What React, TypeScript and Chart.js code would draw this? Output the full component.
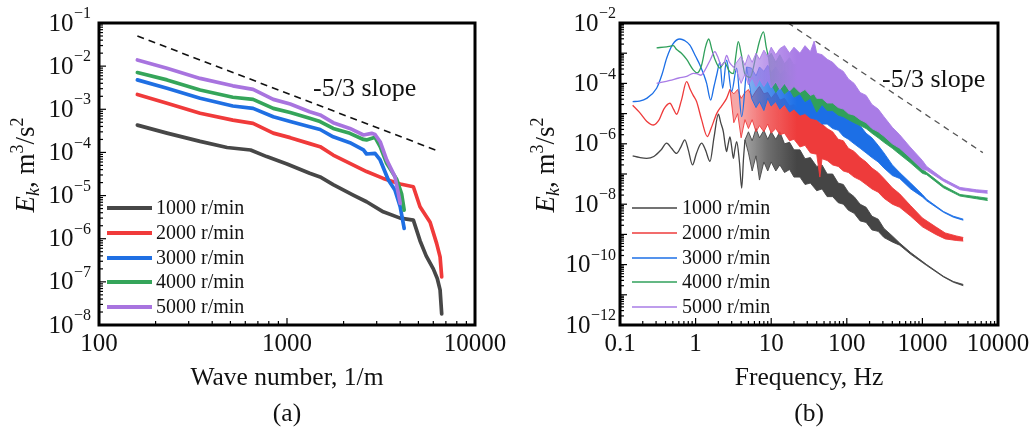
import React, { useEffect, useRef } from "react";
import { Chart, registerables } from "chart.js";

Chart.register(...registerables);

const SERIF = '"Liberation Serif", "Times New Roman", serif';

const SERIES_NAMES = ["1000 r/min", "2000 r/min", "3000 r/min", "4000 r/min", "5000 r/min"];
const COLORS_A = ["#474747", "#f03a3a", "#1f6fe3", "#35a55a", "#a874df"];
const COLORS_B = ["#454545", "#ee3b3b", "#1c6fe6", "#30a05b", "#a97ce6"];

// ---------- Panel (a): wave-number spectra ----------
const A_K_1000 = [160, 230, 345, 480, 640, 780, 1000, 1320, 1500, 1760, 2250, 2650, 3250, 4000, 4700, 5100, 5500, 6000, 6300, 6520, 6650];
const A_E_1000 = [4.3e-4, 2.8e-4, 1.8e-4, 1.3e-4, 1.14e-4, 8.0e-5, 5.4e-5, 3.3e-5, 2.7e-5, 1.8e-5, 1.03e-5, 7.2e-6, 4.2e-6, 3.0e-6, 2.7e-6, 9e-7, 4e-7, 2e-7, 1.2e-7, 6.5e-8, 1.8e-8];
const A_K_2000 = [160, 230, 345, 515, 660, 845, 1040, 1320, 1500, 1760, 2160, 2650, 3250, 4000, 4700, 5100, 5770, 6250, 6520, 6650];
const A_E_2000 = [2.2e-3, 1.38e-3, 8.1e-4, 5.6e-4, 4.7e-4, 2.8e-4, 2.2e-4, 1.6e-4, 1.36e-4, 8.7e-5, 5.6e-5, 3.6e-5, 2.5e-5, 1.85e-5, 1.6e-5, 5.5e-6, 2.4e-6, 7.8e-7, 3.8e-7, 1.3e-7];
const A_K_3000 = [160, 230, 345, 515, 660, 845, 1040, 1320, 1500, 1760, 2160, 2550, 2650, 2940, 3130, 3460, 3750, 4000, 4200];
const A_E_3000 = [4.8e-3, 3.06e-3, 1.8e-3, 1.19e-3, 1.05e-3, 6.7e-4, 5.2e-4, 3.95e-4, 3.4e-4, 2.3e-4, 1.68e-4, 1.14e-4, 9.2e-5, 9.5e-5, 6.7e-5, 2.3e-5, 1.35e-5, 5.5e-6, 1.74e-6];
const A_K_4000 = [160, 230, 345, 515, 660, 845, 1040, 1320, 1500, 1760, 2160, 2550, 2650, 2940, 3130, 3390, 3830, 4070, 4200];
const A_E_4000 = [7.1e-3, 4.8e-3, 2.8e-3, 1.9e-3, 1.7e-3, 1.05e-3, 8.4e-4, 6.2e-4, 5.2e-4, 3.6e-4, 2.77e-4, 2.0e-4, 1.95e-4, 2.24e-4, 1.36e-4, 5.6e-5, 2.4e-5, 1.1e-5, 4.6e-6];
const A_K_5000 = [160, 230, 345, 515, 660, 845, 1040, 1320, 1500, 1760, 2160, 2550, 2820, 2940, 3130, 3390, 3750, 3910, 4000];
const A_E_5000 = [1.39e-2, 8.9e-3, 5.2e-3, 3.5e-3, 2.9e-3, 1.7e-3, 1.32e-3, 8.8e-4, 7.4e-4, 4.9e-4, 3.6e-4, 2.54e-4, 2.77e-4, 2.6e-4, 1.77e-4, 6.7e-5, 2.74e-5, 1.12e-5, 6.6e-6];
const A_SLOPE_K = [160, 6400];
const A_SLOPE_E = [5.0e-2, 1.07e-4];

const A_X_TICKS = [100, 1000, 10000];
const A_X_LABELS = ["100", "1000", "10000"];
const A_Y_TICKS = [1e-1, 1e-2, 1e-3, 1e-4, 1e-5, 1e-6, 1e-7, 1e-8];
const A_Y_EXP = ["\u22121", "\u22122", "\u22123", "\u22124", "\u22125", "\u22126", "\u22127", "\u22128"];

// ---------- Panel (b): frequency spectra ----------
// smooth low-frequency trace + noisy band (upper / lower envelope)
const B_F_LINE_1000 = [0.147, 0.18, 0.225, 0.28, 0.35, 0.414, 0.48, 0.56, 0.64, 0.72, 0.8, 0.91, 1.03, 1.2, 1.35, 1.55, 1.75, 2.0, 2.15, 2.33, 2.45, 2.57, 2.7, 2.85, 3.0, 3.16, 3.3, 3.5, 3.8, 4.07, 4.3, 4.5];
const B_E_LINE_1000 = [4.0e-7, 3.55e-7, 3.3e-7, 3.8e-7, 6.3e-7, 1.05e-6, 7.1e-7, 4.8e-7, 7.9e-7, 1.35e-6, 6.3e-7, 2.0e-7, 5.0e-7, 1.05e-6, 6.3e-7, 2.6e-7, 1.6e-6, 9.5e-6, 5.0e-6, 2.5e-6, 1.0e-6, 5.5e-7, 1.0e-6, 1.7e-6, 7.9e-7, 3.3e-7, 6.3e-7, 1.17e-6, 2.5e-7, 3.4e-8, 3.2e-7, 1.35e-6];
const B_F_BAND_1000 = [5, 5.6, 6.3, 7, 8, 9, 10, 11.5, 13, 15, 17.5, 20, 24, 28, 33, 40, 47, 55, 65, 77, 90, 105, 125, 150, 180, 215, 260, 310, 400, 500, 700, 1140, 1900, 2570, 3475];
const B_E_HI_1000 = [2.5e-6, 1.26e-6, 3.2e-6, 1.58e-6, 2.8e-6, 1.41e-6, 2.5e-6, 1.41e-6, 2.5e-6, 1.0e-6, 1.12e-6, 6.3e-7, 6.3e-7, 3.2e-7, 3.5e-7, 1.78e-7, 2.0e-7, 1.0e-7, 1.0e-7, 5.0e-8, 4.5e-8, 2.5e-8, 1.78e-8, 1.0e-8, 7.9e-9, 4.0e-9, 3.2e-9, 1.58e-9, 8.9e-10, 5.2e-10, 2.5e-10, 1.0e-10, 4.1e-11, 2.75e-11, 2.2e-11];
const B_E_LO_1000 = [5.0e-7, 1.26e-7, 4.0e-7, 6.3e-8, 2.5e-7, 1.26e-7, 2.5e-7, 1.26e-7, 2.0e-7, 1.12e-7, 1.41e-7, 7.9e-8, 7.9e-8, 4.5e-8, 5.0e-8, 2.8e-8, 3.2e-8, 1.78e-8, 1.78e-8, 1.12e-8, 1.0e-8, 6.3e-9, 5.0e-9, 2.8e-9, 2.5e-9, 1.41e-9, 1.26e-9, 7.9e-10, 5.6e-10, 4.4e-10, 2.2e-10, 9.3e-11, 3.9e-11, 2.6e-11, 2.0e-11];

const B_F_LINE_2000 = [0.147, 0.18, 0.225, 0.276, 0.33, 0.38, 0.458, 0.51, 0.56, 0.65, 0.76, 0.85, 0.93, 1.03, 1.2, 1.43, 1.6, 1.9, 2.2, 2.57, 2.85];
const B_E_LINE_2000 = [1.9e-5, 1.12e-5, 5.6e-6, 4.2e-6, 6.3e-6, 1.41e-5, 2.2e-5, 1.41e-5, 9.5e-6, 2.8e-5, 1.15e-4, 6.3e-5, 4.0e-5, 2.5e-5, 6.3e-6, 1.74e-6, 3.2e-6, 1.0e-5, 1.78e-5, 3.2e-5, 6.3e-5];
const B_F_BAND_2000 = [3.2, 3.6, 4.0, 4.5, 5, 5.6, 6.3, 7, 8, 9, 10, 11.5, 13, 15, 17.5, 20, 24, 28, 33, 40, 44, 47, 55, 65, 77, 90, 105, 125, 150, 180, 215, 260, 310, 400, 500, 700, 1000, 1500, 2000, 2800, 3475];
const B_E_HI_2000 = [4.5e-5, 6.3e-5, 3.2e-5, 5.0e-5, 6.3e-5, 3.5e-5, 5.6e-5, 7.9e-5, 4.5e-5, 5.0e-5, 3.2e-5, 5.0e-5, 2.8e-5, 3.2e-5, 1.78e-5, 2.0e-5, 1.12e-5, 1.26e-5, 7.9e-6, 6.3e-6, 5.0e-6, 4.5e-6, 3.2e-6, 2.5e-6, 1.41e-6, 1.26e-6, 7.1e-7, 5.6e-7, 3.5e-7, 2.5e-7, 1.58e-7, 1.12e-7, 7.1e-8, 3.5e-8, 2.2e-8, 8.9e-9, 3.5e-9, 1.78e-9, 1.12e-9, 8.9e-10, 7.9e-10];
const B_E_LO_2000 = [5.0e-6, 1.0e-5, 1.58e-6, 6.3e-6, 3.2e-6, 6.3e-6, 2.5e-6, 4.0e-6, 2.5e-6, 4.5e-6, 2.24e-6, 3.2e-6, 2.0e-6, 2.24e-6, 1.26e-6, 1.41e-6, 7.9e-7, 8.9e-7, 5.0e-7, 4.5e-7, 7.9e-8, 3.2e-7, 2.8e-7, 2.0e-7, 1.78e-7, 1.26e-7, 1.12e-7, 7.9e-8, 6.3e-8, 4.5e-8, 3.2e-8, 2.5e-8, 1.58e-8, 1.0e-8, 7.9e-9, 4.0e-9, 1.78e-9, 1.0e-9, 7.1e-10, 6.3e-10, 6.0e-10];

const B_F_LINE_3000 = [0.147, 0.18, 0.225, 0.305, 0.36, 0.414, 0.5, 0.62, 0.72, 0.84, 1.0, 1.14, 1.3, 1.4, 1.58, 1.75, 1.9, 2.1, 2.28, 2.57, 3.0, 3.49, 4.07, 4.73];
const B_E_LINE_3000 = [2.5e-5, 2.6e-5, 3.2e-5, 6.9e-5, 2.0e-4, 6.8e-4, 2.0e-3, 2.95e-3, 2.6e-3, 1.86e-3, 7.9e-4, 4.1e-4, 1.78e-4, 1.0e-4, 2.8e-5, 7.9e-5, 1.9e-4, 5.0e-4, 6.9e-5, 5.9e-4, 5.4e-5, 3.2e-4, 7.9e-6, 3.5e-4];
const B_F_BAND_3000 = [5.5, 6.3, 7, 8, 9, 10, 11.5, 13, 15, 17.5, 20, 24, 28, 33, 40, 47, 55, 65, 77, 90, 105, 125, 150, 180, 215, 260, 310, 400, 500, 700, 1000, 1140, 1900, 2570, 3475];
const B_E_HI_3000 = [3.2e-4, 1.78e-4, 3.5e-4, 2.5e-4, 4.0e-4, 2.24e-4, 3.5e-4, 2.0e-4, 2.8e-4, 1.58e-4, 2.0e-4, 1.12e-4, 1.26e-4, 7.9e-5, 7.9e-5, 4.5e-5, 4.5e-5, 2.5e-5, 2.24e-5, 1.26e-5, 1.0e-5, 5.6e-6, 4.0e-6, 2.24e-6, 1.58e-6, 8.9e-7, 5.0e-7, 2.0e-7, 1.12e-7, 5.0e-8, 2.1e-8, 1.45e-8, 5.75e-9, 4.0e-9, 3.2e-9];
const B_E_LO_3000 = [3.2e-5, 1.58e-5, 2.5e-5, 1.26e-5, 3.2e-5, 1.78e-5, 2.5e-5, 1.41e-5, 2.0e-5, 1.12e-5, 1.41e-5, 8.9e-6, 1.0e-5, 7.1e-6, 6.3e-6, 4.5e-6, 4.5e-6, 3.2e-6, 2.8e-6, 1.78e-6, 1.41e-6, 1.0e-6, 7.1e-7, 5.0e-7, 3.5e-7, 2.5e-7, 1.58e-7, 8.9e-8, 7.1e-8, 3.2e-8, 1.74e-8, 1.29e-8, 5.4e-9, 3.7e-9, 2.95e-9];

const B_F_LINE_4000 = [0.305, 0.414, 0.507, 0.562, 0.65, 0.762, 0.93, 1.05, 1.2, 1.35, 1.49, 1.65, 1.8, 2.1, 2.4, 2.8, 3.16, 3.4, 3.67, 4.0, 4.5, 5.25, 6.4, 7.0, 7.9, 8.6, 9.2];
const B_E_LINE_4000 = [1.51e-3, 1.62e-3, 1.78e-3, 1.32e-3, 1.0e-3, 6.2e-4, 2.8e-4, 2.24e-4, 4.0e-4, 1.58e-3, 2.95e-3, 1.26e-3, 6.3e-4, 3.2e-4, 5.0e-4, 2.5e-4, 2.1e-4, 7.9e-4, 2.4e-3, 1.0e-3, 2.0e-4, 1.58e-4, 1.0e-3, 2.5e-3, 5.1e-3, 1.58e-3, 7.4e-4];
const B_F_BAND_4000 = [10, 11.5, 13, 15, 17.5, 20, 24, 28, 33, 40, 47, 55, 65, 77, 90, 105, 125, 150, 180, 215, 260, 310, 400, 500, 686, 1000, 1140, 1900, 3140, 5220, 7300];
const B_E_HI_4000 = [1.0e-3, 5.0e-4, 8.9e-4, 4.5e-4, 7.1e-4, 4.0e-4, 5.6e-4, 3.5e-4, 4.5e-4, 2.5e-4, 2.8e-4, 1.58e-4, 1.58e-4, 8.9e-5, 7.9e-5, 5.0e-5, 3.5e-5, 2.0e-5, 1.41e-5, 7.9e-6, 5.6e-6, 3.2e-6, 1.41e-6, 7.9e-7, 3.5e-7, 1.41e-7, 1.12e-7, 4.1e-8, 2.1e-8, 1.78e-8, 1.58e-8];
const B_E_LO_4000 = [1.0e-4, 5.0e-5, 7.9e-5, 4.5e-5, 6.3e-5, 3.5e-5, 4.5e-5, 2.5e-5, 3.2e-5, 1.12e-5, 2.0e-5, 1.26e-5, 1.26e-5, 8.9e-6, 7.9e-6, 6.3e-6, 5.0e-6, 4.0e-6, 3.2e-6, 2.24e-6, 1.58e-6, 1.12e-6, 7.1e-7, 4.5e-7, 2.4e-7, 1.05e-7, 9.5e-8, 3.5e-8, 1.86e-8, 1.51e-8, 1.32e-8];

const B_F_LINE_5000 = [0.305, 0.458, 0.6, 0.762, 0.93, 1.03, 1.18, 1.3, 1.55, 1.8, 1.95, 2.2, 2.4, 2.57, 2.8, 3.16];
const B_E_LINE_5000 = [1.0e-4, 1.26e-4, 1.51e-4, 1.7e-4, 2.14e-4, 2.1e-4, 1.86e-4, 2.5e-4, 5.75e-4, 1.12e-3, 7.9e-4, 4.0e-4, 5.0e-4, 8.5e-4, 5.0e-4, 3.5e-4];
const B_F_BAND_5000 = [3.5, 4, 4.5, 5, 5.6, 6.3, 7, 8, 9, 10, 11.5, 13, 15, 17.5, 20, 24, 28, 33, 37, 40, 47, 55, 65, 77, 90, 105, 125, 150, 180, 215, 260, 310, 400, 500, 686, 1000, 1140, 1900, 3140, 5220, 7300];
const B_E_HI_5000 = [5.0e-4, 7.9e-4, 4.0e-4, 8.9e-4, 5.0e-4, 1.0e-3, 6.3e-4, 1.26e-3, 7.9e-4, 1.58e-3, 8.9e-4, 1.41e-3, 1.78e-3, 1.0e-3, 1.58e-3, 1.0e-3, 1.78e-3, 1.12e-3, 2.5e-3, 1.0e-3, 8.9e-4, 6.3e-4, 5.0e-4, 3.2e-4, 2.5e-4, 1.41e-4, 1.0e-4, 5.0e-5, 4.0e-5, 2.0e-5, 1.41e-5, 7.9e-6, 3.5e-6, 2.0e-6, 7.9e-7, 2.8e-7, 1.78e-7, 6.9e-8, 3.6e-8, 3.0e-8, 2.8e-8];
const B_E_LO_5000 = [2.5e-4, 1.0e-4, 2.0e-4, 8.9e-5, 1.58e-4, 7.9e-5, 1.41e-4, 7.9e-5, 1.26e-4, 7.1e-5, 1.12e-4, 6.3e-5, 1.0e-4, 5.6e-5, 7.9e-5, 5.0e-5, 6.3e-5, 4.0e-5, 4.5e-5, 3.2e-5, 3.2e-5, 2.24e-5, 2.24e-5, 1.58e-5, 1.41e-5, 1.0e-5, 8.9e-6, 6.3e-6, 5.0e-6, 3.2e-6, 2.5e-6, 1.78e-6, 1.0e-6, 7.1e-7, 3.5e-7, 1.41e-7, 1.32e-7, 5.75e-8, 3.0e-8, 2.5e-8, 2.3e-8];

const B_SLOPE_F = [16.7, 6300];
const B_SLOPE_E = [1.0e-2, 5.1e-7];

const B_X_TICKS = [0.1, 1, 10, 100, 1000, 10000];
const B_X_LABELS = ["0.1", "1", "10", "100", "1000", "10000"];
const B_Y_TICKS = [1e-2, 1e-4, 1e-6, 1e-8, 1e-10, 1e-12];
const B_Y_EXP = ["\u22122", "\u22124", "\u22126", "\u22128", "\u221210", "\u221212"];

// ---------- helpers ----------
const pts = (xs: number[], ys: number[]) => xs.map((x, i) => ({ x, y: ys[i] }));

function rgba(hex: string, a: number) {
  const n = parseInt(hex.slice(1), 16);
  return `rgba(${(n >> 16) & 255},${(n >> 8) & 255},${n & 255},${a})`;
}

function buildA() {
  const series = [
    [A_K_1000, A_E_1000],
    [A_K_2000, A_E_2000],
    [A_K_3000, A_E_3000],
    [A_K_4000, A_E_4000],
    [A_K_5000, A_E_5000],
  ];
  const ds: any[] = series.map(([k, e], i) => ({
    label: SERIES_NAMES[i],
    data: pts(k, e),
    borderColor: COLORS_A[i],
    borderWidth: 3.7,
    pointRadius: 0,
    fill: false,
    tension: 0,
    borderJoinStyle: "round",
    borderCapStyle: "round",
    order: 10 - i,
  }));
  ds.push({
    label: "slope",
    data: pts(A_SLOPE_K, A_SLOPE_E),
    borderColor: "#111",
    borderWidth: 1.6,
    borderDash: [7, 5],
    pointRadius: 0,
    fill: false,
    order: 20,
  });
  return ds;
}

// fill of the noisy band: lighter where the spectrum is made of sparse spikes
function bandFill(color: string) {
  return (c: any) => {
    const chart = c.chart;
    const a = chart.chartArea;
    if (!a) return color;
    const xs = chart.scales.x;
    const g = chart.ctx.createLinearGradient(a.left, 0, a.right, 0);
    const p = (f: number) => Math.min(1, Math.max(0, (xs.getPixelForValue(f) - a.left) / (a.right - a.left)));
    g.addColorStop(0, rgba(color, 0.45));
    g.addColorStop(p(4), rgba(color, 0.45));
    g.addColorStop(p(9), rgba(color, 0.78));
    g.addColorStop(p(22), rgba(color, 1));
    g.addColorStop(1, rgba(color, 1));
    return g;
  };
}

function buildB() {
  const series = [
    [B_F_LINE_1000, B_E_LINE_1000, B_F_BAND_1000, B_E_HI_1000, B_E_LO_1000],
    [B_F_LINE_2000, B_E_LINE_2000, B_F_BAND_2000, B_E_HI_2000, B_E_LO_2000],
    [B_F_LINE_3000, B_E_LINE_3000, B_F_BAND_3000, B_E_HI_3000, B_E_LO_3000],
    [B_F_LINE_4000, B_E_LINE_4000, B_F_BAND_4000, B_E_HI_4000, B_E_LO_4000],
    [B_F_LINE_5000, B_E_LINE_5000, B_F_BAND_5000, B_E_HI_5000, B_E_LO_5000],
  ];
  const ds: any[] = [];
  series.forEach(([fl, el, fb, hi, lo], i) => {
    const color = COLORS_B[i];
    const common = {
      borderColor: color,
      borderWidth: 0.9,
      pointRadius: 0,
      borderJoinStyle: "round",
      order: 10 - i,
    };
    const last = { x: fl[fl.length - 1], y: el[el.length - 1] };
    ds.push({ ...common, label: SERIES_NAMES[i], data: pts(fl, el), cubicInterpolationMode: "monotone", fill: false, borderWidth: 1.3 });
    ds.push({ ...common, label: SERIES_NAMES[i] + " upper", data: [last, ...pts(fb, hi)], tension: 0, fill: "+1", backgroundColor: bandFill(color) });
    ds.push({ ...common, label: SERIES_NAMES[i] + " lower", data: [last, ...pts(fb, lo)], tension: 0, fill: false });
  });
  ds.push({
    label: "slope",
    data: pts(B_SLOPE_F, B_SLOPE_E),
    borderColor: "#555",
    borderWidth: 1.3,
    borderDash: [6, 5],
    pointRadius: 0,
    fill: false,
    order: 20,
  });
  return ds;
}

type Spec = {
  width: number;
  padding: { left: number; right: number; top: number; bottom: number };
  xMin: number; xMax: number; yMin: number; yMax: number;
  xTicks: number[]; xLabels: string[];
  yTicks: number[]; yExp: string[];
  yGap: number;
  yTitleX: number;
  xTitle: string;
  caption: string;
  slope: { x: number; y: number };
  legend: { x0: number; x1: number; tx: number; rows: number[]; lw: number };
  colors: string[];
  build: () => any[];
};

function drawYTitle(ctx: CanvasRenderingContext2D, x: number, yc: number) {
  const big = 27, small = 18;
  const parts = [
    { t: "E", f: `italic ${big}px ${SERIF}`, dy: 0 },
    { t: "k", f: `italic ${small}px ${SERIF}`, dy: 5 },
    { t: ", m", f: `${big}px ${SERIF}`, dy: 0 },
    { t: "3", f: `${small}px ${SERIF}`, dy: -11 },
    { t: "/s", f: `${big}px ${SERIF}`, dy: 0 },
    { t: "2", f: `${small}px ${SERIF}`, dy: -11 },
  ];
  ctx.save();
  ctx.translate(x, yc);
  ctx.rotate(-Math.PI / 2);
  let total = 0;
  const ws = parts.map((p) => {
    ctx.font = p.f;
    const w = ctx.measureText(p.t).width;
    total += w;
    return w;
  });
  let cx = -total / 2;
  ctx.textAlign = "left";
  ctx.textBaseline = "alphabetic";
  ctx.fillStyle = "#111";
  parts.forEach((p, i) => {
    ctx.font = p.f;
    ctx.fillText(p.t, cx, p.dy);
    cx += ws[i];
  });
  ctx.restore();
}

function decoPlugin(spec: Spec) {
  return {
    id: "deco",
    afterDraw(chart: any) {
      const ctx: CanvasRenderingContext2D = chart.ctx;
      const a = chart.chartArea;
      const xs = chart.scales.x;
      const ys = chart.scales.y;
      ctx.save();
      // ticks (inward)
      ctx.strokeStyle = "#000";
      ctx.lineWidth = 1.2;
      const xd0 = Math.floor(Math.log10(spec.xMin));
      const xd1 = Math.ceil(Math.log10(spec.xMax));
      for (let d = xd0; d <= xd1; d++) {
        for (let m = 1; m <= 9; m++) {
          const v = m * Math.pow(10, d);
          if (v < spec.xMin * 0.999 || v > spec.xMax * 1.001) continue;
          const px = xs.getPixelForValue(v);
          const len = m === 1 ? 7 : 4;
          ctx.beginPath();
          ctx.moveTo(px, a.bottom);
          ctx.lineTo(px, a.bottom - len);
          ctx.stroke();
        }
      }
      const yd0 = Math.floor(Math.log10(spec.yMin));
      const yd1 = Math.ceil(Math.log10(spec.yMax));
      for (let d = yd0; d <= yd1; d++) {
        for (let m = 1; m <= 9; m++) {
          const v = m * Math.pow(10, d);
          if (v < spec.yMin * 0.999 || v > spec.yMax * 1.001) continue;
          const py = ys.getPixelForValue(v);
          const len = m === 1 ? 7 : 4;
          ctx.beginPath();
          ctx.moveTo(a.left, py);
          ctx.lineTo(a.left + len, py);
          ctx.stroke();
        }
      }
      // frame
      ctx.lineWidth = 3;
      ctx.strokeRect(a.left, a.top, a.right - a.left, a.bottom - a.top);

      ctx.fillStyle = "#111";
      // x tick labels
      ctx.font = `25px ${SERIF}`;
      ctx.textAlign = "center";
      ctx.textBaseline = "middle";
      spec.xTicks.forEach((v, i) => {
        ctx.fillText(spec.xLabels[i], xs.getPixelForValue(v), a.bottom + 19);
      });
      // y tick labels 10^n
      spec.yTicks.forEach((v, i) => {
        const py = ys.getPixelForValue(v);
        ctx.font = `16px ${SERIF}`;
        const ew = ctx.measureText(spec.yExp[i]).width;
        const ex = a.left - spec.yGap - ew;
        ctx.textAlign = "left";
        ctx.fillText(spec.yExp[i], ex, py - 9);
        ctx.font = `25px ${SERIF}`;
        ctx.textAlign = "right";
        ctx.fillText("10", ex - 0.5, py + 1);
      });
      // axis titles
      const cx = (a.left + a.right) / 2;
      ctx.font = `25.5px ${SERIF}`;
      ctx.textAlign = "center";
      ctx.fillText(spec.xTitle, cx, 378);
      ctx.fillText(spec.caption, cx, 414);
      drawYTitle(ctx, spec.yTitleX, 165);
      // slope annotation
      ctx.font = `26px ${SERIF}`;
      ctx.textAlign = "left";
      ctx.fillText("-5/3 slope", spec.slope.x, spec.slope.y);
      // legend
      const L = spec.legend;
      ctx.font = `20px ${SERIF}`;
      L.rows.forEach((ry, i) => {
        ctx.strokeStyle = spec.colors[i];
        ctx.lineWidth = L.lw;
        ctx.beginPath();
        ctx.moveTo(L.x0, ry);
        ctx.lineTo(L.x1, ry);
        ctx.stroke();
        ctx.fillStyle = "#111";
        ctx.fillText(SERIES_NAMES[i], L.tx, ry + 1);
      });
      ctx.restore();
    },
  };
}

const SPEC_A: Spec = {
  width: 520,
  padding: { left: 99, right: 45, top: 23, bottom: 111 },
  xMin: 100, xMax: 10000, yMin: 1e-8, yMax: 1e-1,
  xTicks: A_X_TICKS, xLabels: A_X_LABELS,
  yTicks: A_Y_TICKS, yExp: A_Y_EXP,
  yGap: 8,
  yTitleX: 34,
  xTitle: "Wave number, 1/m",
  caption: "(a)",
  slope: { x: 313, y: 89 },
  legend: { x0: 107, x1: 152, tx: 156, rows: [208, 233, 258, 282, 307], lw: 4 },
  colors: COLORS_A,
  build: buildA,
};

const SPEC_B: Spec = {
  width: 512,
  padding: { left: 100, right: 34, top: 23, bottom: 111 },
  xMin: 0.1, xMax: 10000, yMin: 1e-12, yMax: 1e-2,
  xTicks: B_X_TICKS, xLabels: B_X_LABELS,
  yTicks: B_Y_TICKS, yExp: B_Y_EXP,
  yGap: 4,
  yTitleX: 34,
  xTitle: "Frequency, Hz",
  caption: "(b)",
  slope: { x: 362, y: 80 },
  legend: { x0: 112, x1: 157, tx: 162, rows: [208, 233, 258, 282, 307], lw: 1.5 },
  colors: COLORS_B,
  build: buildB,
};

function Panel({ spec, left }: { spec: Spec; left: number }) {
  const ref = useRef<HTMLCanvasElement>(null);
  useEffect(() => {
    const chart = new Chart(ref.current as HTMLCanvasElement, {
      type: "line",
      data: { datasets: spec.build() },
      options: {
        responsive: false,
        animation: false,
        devicePixelRatio: 1,
        events: [],
        layout: { padding: spec.padding },
        scales: {
          x: { type: "logarithmic", min: spec.xMin, max: spec.xMax, display: false },
          y: { type: "logarithmic", min: spec.yMin, max: spec.yMax, display: false },
        },
        plugins: { legend: { display: false }, tooltip: { enabled: false } },
        elements: { point: { radius: 0 } },
      } as any,
      plugins: [decoPlugin(spec)],
    });
    return () => chart.destroy();
  }, [spec]);
  return (
    <canvas
      ref={ref}
      width={spec.width}
      height={436}
      style={{ position: "absolute", left, top: 0, width: spec.width, height: 436 }}
    />
  );
}

export default function App() {
  return (
    <div style={{ position: "fixed", left: 0, top: 0, width: 1032, height: 436, background: "#fff" }}>
      <Panel spec={SPEC_A} left={0} />
      <Panel spec={SPEC_B} left={520} />
    </div>
  );
}
